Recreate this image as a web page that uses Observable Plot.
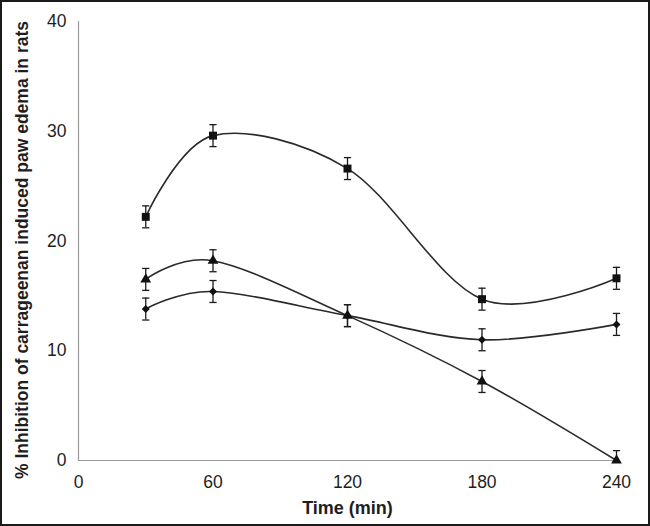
<!DOCTYPE html>
<html>
<head>
<meta charset="utf-8">
<script src="https://cdn.jsdelivr.net/npm/d3@7"></script>
<script src="https://cdn.jsdelivr.net/npm/@observablehq/plot@0.6"></script>
<style>
  html, body { margin: 0; padding: 0; background: #fff; }
  #frame { width: 650px; height: 526px; box-sizing: border-box; border: 2px solid #1a1a1a; background: #fff; overflow: hidden; }
</style>
</head>
<body>
<div id="frame"></div>
<script>
// Data
const times = [30, 60, 120, 180, 240];
const squareValues = [22.2, 29.6, 26.6, 14.7, 16.6];
const squareErrors = [1.0, 1.0, 1.0, 1.0, 1.0];
const triangleValues = [16.5, 18.2, 13.2, 7.2, 0];
const triangleErrors = [1.0, 1.0, 1.0, 1.0, 0.9];
const diamondValues = [13.8, 15.4, 13.2, 11.0, 12.4];
const diamondErrors = [1.0, 1.0, 1.0, 1.0, 1.0];
const xTicks = [0, 60, 120, 180, 240];
const yTicks = [0, 10, 20, 30, 40];

const seriesDefs = [
  {name: "square", symbol: "square", r: 4.5, values: squareValues, errors: squareErrors},
  {name: "triangle", symbol: "triangle", r: 4, values: triangleValues, errors: triangleErrors},
  {name: "diamond", symbol: "diamond2", r: 3.6, values: diamondValues, errors: diamondErrors}
];

const rows = seriesDefs.flatMap(s => times.map((t, i) => ({
  series: s.name, symbol: s.symbol, r: s.r, t, v: s.values[i], e: s.errors[i]
})));

// horizontal cap symbol for error bars
const capSymbol = {
  draw(ctx, size) {
    const w = Math.sqrt(size / Math.PI);
    ctx.moveTo(-w, 0);
    ctx.lineTo(w, 0);
  }
};

const marks = [
  Plot.ruleY([0], {stroke: "#9a9a9a", strokeWidth: 1.2}),
  Plot.ruleX([0], {stroke: "#9a9a9a", strokeWidth: 1.2}),
  Plot.ruleX(rows, {x: "t", y1: d => Math.max(0, d.v - d.e), y2: d => d.v + d.e, stroke: "#1a1a1a", strokeWidth: 1.3}),
  Plot.dot(rows, {x: "t", y: d => d.v + d.e, symbol: capSymbol, r: 3.6, stroke: "#1a1a1a", strokeWidth: 1.3, fill: "none"}),
  Plot.dot(rows.filter(d => d.v - d.e >= 0), {x: "t", y: d => d.v - d.e, symbol: capSymbol, r: 3.6, stroke: "#1a1a1a", strokeWidth: 1.3, fill: "none"}),
  Plot.line(rows, {x: "t", y: "v", z: "series", curve: "cardinal", stroke: "#2a2a2a", strokeWidth: 1.6})
];
for (const s of seriesDefs) {
  marks.push(Plot.dot(rows.filter(d => d.series === s.name), {
    x: "t", y: "v", symbol: () => s.symbol, r: s.r, fill: "#111", stroke: "none"
  }));
}

const chart = Plot.plot({
  width: 646,
  height: 522,
  marginLeft: 76,
  marginRight: 32,
  marginTop: 19,
  marginBottom: 64,
  style: {fontFamily: "'Liberation Sans', Arial, Helvetica, sans-serif", fontSize: "17.5px", color: "#1e1e1e", background: "#fff"},
  symbol: {type: "identity"},
  x: {
    domain: [0, 240], ticks: xTicks, tickSize: 0, tickPadding: 15,
    label: "Time (min)", labelAnchor: "center", labelOffset: 53, labelArrow: "none"
  },
  y: {
    domain: [0, 40], ticks: yTicks, tickSize: 0, tickPadding: 12,
    label: "% Inhibition of carrageenan induced paw edema in rats", labelAnchor: "center", labelOffset: 63, labelArrow: "none"
  },
  marks
});

// Bold axis titles
chart.querySelectorAll("g[aria-label='x-axis label'] text").forEach(t => {
  t.setAttribute("font-weight", "bold");
  t.style.fontSize = "18px";
});
chart.querySelectorAll("g[aria-label='y-axis label'] text").forEach(t => {
  t.setAttribute("font-weight", "bold");
  t.style.fontSize = "17.5px";
  const tr = t.getAttribute("transform") || "";
  t.setAttribute("transform", "translate(0,9) " + tr);
});
document.getElementById("frame").appendChild(chart);
</script>
</body>
</html>
